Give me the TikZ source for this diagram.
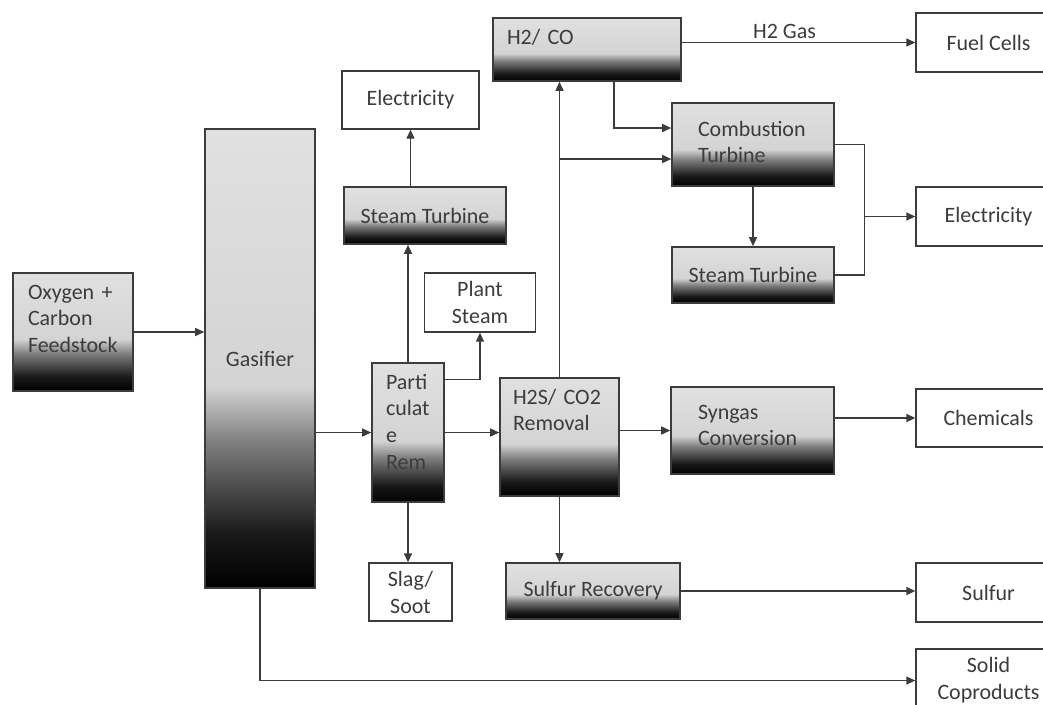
\documentclass[tikz,border=0pt]{standalone}
\usepackage{fontspec}
\setmainfont{Carlito}
\usetikzlibrary{arrows.meta}

\definecolor{ink}{HTML}{3C3C3C}
\pgfdeclareverticalshading{boxshade}{100bp}{color(0bp)=(black); color(25bp)=(black); color(31bp)=(black!90); color(41bp)=(black!50); color(47bp)=(black!17); color(75bp)=(black!12); color(100bp)=(black!12)}

\tikzset{
  sbox/.style={draw=ink, line width=0.9pt, shade, shading=boxshade, text=ink, inner sep=0pt},
  wbox/.style={draw=ink, line width=0.8pt, fill=white, text=ink, align=center, inner sep=0pt},
  arr/.style={draw=ink, line width=0.8pt, -{Triangle[length=1.8mm,width=1.6mm]}},
  ln/.style={draw=ink, line width=0.8pt}
}

\begin{document}
\begin{tikzpicture}[x=0.02cm, y=-0.02cm, every node/.style={font=\fontsize{12.5}{15.3}\selectfont}]
        \useasboundingbox (0,0) rectangle (1043,704);
        \clip (0,0) rectangle (1043,704);

        % Nodes
        \node[sbox, minimum width=2.4cm, minimum height=2.36cm, text width=1.8cm, align=left, text height=0pt, text depth=1.32cm] (feed) at (73,332) {Oxygen +\\Carbon\\Feedstock};
        \node[sbox, minimum width=2.2cm, minimum height=9.18cm] (gas) at (260,358.5) {Gasifier};
        \node[wbox, minimum width=2.74cm, minimum height=1.16cm] (elecL) at (410.5,100) {Electricity};
        \node[sbox, minimum width=3.24cm, minimum height=1.14cm] (stL) at (425,215.5) {Steam Turbine};
        \node[wbox, minimum width=2.22cm, minimum height=1.18cm] (plant) at (480,302.5) {Plant\\Steam};
        \node[sbox, minimum width=1.44cm, minimum height=2.78cm, text width=0.88cm, align=left, text height=0pt, text depth=1.74cm] (partic) at (408,432.5) {Parti\\culat\\e\\Rem};
        \node[wbox, minimum width=1.66cm, minimum height=1.16cm] (slag) at (410.5,592) {Slag/\\Soot};
        \node[sbox, minimum width=3.76cm, minimum height=1.26cm, text width=3.2cm, align=left, text height=0pt, text depth=0.22cm] (h2co) at (587,49.5) {H2/ CO};
        \node[sbox, minimum width=2.38cm, minimum height=2.36cm, text width=1.86cm, align=left, text height=0pt, text depth=1.32cm] (h2s) at (559.5,437) {H2S/ CO2\\Removal};
        \node[sbox, minimum width=3.48cm, minimum height=1.12cm] (sulfrec) at (593,591) {Sulfur Recovery};
        \node[sbox, minimum width=3.24cm, minimum height=1.66cm, text width=2.2cm, align=left, text height=0pt, text depth=0.34cm] (comb) at (753,144.5) {Combustion\\Turbine};
        \node[sbox, minimum width=3.24cm, minimum height=1.12cm] (stR) at (753,275) {Steam Turbine};
        \node[sbox, minimum width=3.26cm, minimum height=1.74cm, text width=2.18cm, align=left, text height=0pt, text depth=0.46cm] (syngas) at (752.5,430.5) {Syngas\\Conversion};
        \node[wbox, minimum width=2.9cm, minimum height=1.18cm] (fuel) at (988.5,42.5) {Fuel Cells};
        \node[wbox, minimum width=2.9cm, minimum height=1.18cm] (elecR) at (988.5,216.5) {Electricity};
        \node[wbox, minimum width=2.9cm, minimum height=1.16cm] (chem) at (988.5,418) {Chemicals};
        \node[wbox, minimum width=2.9cm, minimum height=1.18cm] (sulfur) at (988.5,592.5) {Sulfur};
        \node[wbox, minimum width=2.9cm, minimum height=1.26cm] (solid) at (988.5,680.5) {Solid\\Coproducts};

        % Edges
        \draw[arr] (feed.east) -- (gas.west |- feed.east);
        \draw[arr] (gas.east |- partic) -- (partic.west);
        \draw[arr] (gas.south) |- (solid.west);
        \draw[arr] (partic.north) -- (partic.north |- stL.south);
        \draw[arr] (stL.north -| elecL) -- (elecL.south);
        \draw[arr] (partic.north east) ++(0,17) -| (plant.south);
        \draw[arr] (partic.east) -- (partic.east -| h2s.west);
        \draw[arr] (partic.south) -- (partic.south |- slag.north);
        \draw[arr] (h2s.east |- syngas) -- (syngas.west);
        \draw[arr] (syngas.east |- chem) -- (chem.west);
        \draw[arr] (h2s.south) -- (h2s.south |- sulfrec.north);
        \draw[arr] (sulfrec.east) -- (sulfrec.east -| sulfur.west);
        \draw[arr] (h2s.north) -- (h2s.north |- h2co.south);
        \draw[arr] ([yshift=-0.29cm]comb.west -| h2s.north) -- ([yshift=-0.29cm]comb.west);
        \draw[arr] ([xshift=0.54cm]h2co.south) |- ([yshift=0.33cm]comb.west);
        \draw[arr] (h2co.east |- fuel) -- node[above, pos=0.44, inner sep=2pt, text=ink] (h2gas) {H2 Gas} (fuel.west);
        \draw[arr] (comb.south) -- (stR.north);
        \draw[ln] (comb.east) -- ++(30,0) coordinate (brk) |- (stR.east);
        \draw[arr] (brk |- elecR) -- (elecR.west);
    \end{tikzpicture}
\end{document}
